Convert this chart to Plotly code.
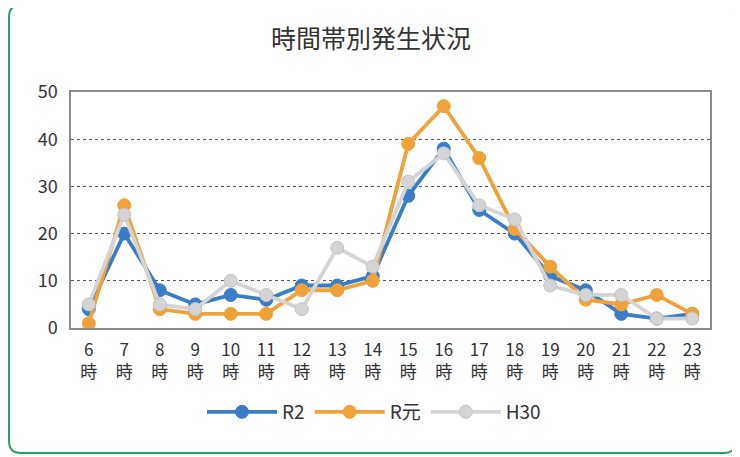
import plotly.graph_objects as go

hours = ["6<br>時", "7<br>時", "8<br>時", "9<br>時", "10<br>時", "11<br>時", "12<br>時",
         "13<br>時", "14<br>時", "15<br>時", "16<br>時", "17<br>時", "18<br>時", "19<br>時",
         "20<br>時", "21<br>時", "22<br>時", "23<br>時"]
r2 = [4, 20, 8, 5, 7, 6, 9, 9, 11, 28, 38, 25, 20, 11, 8, 3, 2, 3]
rgen = [1, 26, 4, 3, 3, 3, 8, 8, 10, 39, 47, 36, 21, 13, 6, 5, 7, 3]
h30 = [5, 24, 5, 4, 10, 7, 4, 17, 13, 31, 37, 26, 23, 9, 7, 7, 2, 2]
names = ["R2", "R元", "H30"]
colors = ["#3b7dc5", "#f0a23a", "#d4d4d4"]
outline = ["#3b7dc5", "#f0a23a", "#c4c4c4"]

FONT = "Noto Sans CJK JP"
fig = go.Figure()
for name, vals, c, oc in zip(names, [r2, rgen, h30], colors, outline):
    fig.add_trace(go.Scatter(
        x=hours, y=vals, name=name, mode="lines+markers",
        line=dict(color=c, width=3.8),
        marker=dict(color=c, size=13, line=dict(width=1, color=oc)),
    ))

# page has an 8px body margin; work in window pixels and shift
O = 8
W, H = 740 - O, 457 - O
L, R, T, B = 71 - O, 710 - O, 92 - O, 328 - O
pw, ph = R - L, B - T

def px(x):
    return (x - O - L) / pw

def py(y):
    return (B - (y - O)) / ph

# rounded green frame (window pixel coords)
x0, x1, y0, y1, rad = 9, 736, 5, 453, 12
path = (f"M {px(x0+rad)},{py(y0)} L {px(x1-rad)},{py(y0)} "
        f"Q {px(x1)},{py(y0)} {px(x1)},{py(y0+rad)} L {px(x1)},{py(y1-rad)} "
        f"Q {px(x1)},{py(y1)} {px(x1-rad)},{py(y1)} L {px(x0+rad)},{py(y1)} "
        f"Q {px(x0)},{py(y1)} {px(x0)},{py(y1-rad)} L {px(x0)},{py(y0+rad)} "
        f"Q {px(x0)},{py(y0)} {px(x0+rad)},{py(y0)} Z")

fig.update_layout(
    width=W, height=H,
    margin=dict(l=L, r=W - R, t=T, b=H - B, autoexpand=False),
    paper_bgcolor="white", plot_bgcolor="white",
    font=dict(family=FONT, color="#333333", size=16),
    title=dict(text="時間帯別発生状況", x=(371 - O) / W, xanchor="center",
               y=1 - (39 - O) / H, yanchor="middle",
               font=dict(size=25, color="#333333", family=FONT)),
    showlegend=True,
    legend=dict(orientation="h", x=px(374), xanchor="center",
                y=py(412), yanchor="middle",
                font=dict(size=19, color="#333333", family=FONT), itemwidth=70,
                traceorder="normal"),
    xaxis=dict(type="category", range=[-0.5, 17.5], showgrid=False, ticks="",
               showline=True, linecolor="#8a8a8a", linewidth=1.5, mirror=True,
               tickfont=dict(size=17, color="#333333"), fixedrange=True,
               ticklabelstandoff=6),
    yaxis=dict(range=[0, 50], dtick=10, showgrid=True, gridcolor="#555555",
               griddash="dot", gridwidth=1, zeroline=False, ticks="",
               showline=True, linecolor="#8a8a8a", linewidth=1.5, mirror=True,
               tickfont=dict(size=18, color="#333333"), ticklabelstandoff=8),
    shapes=[dict(type="path", xref="paper", yref="paper", path=path,
                 line=dict(color="#2f9e62", width=2), fillcolor="rgba(0,0,0,0)",
                 layer="below")],
)

fig.write_html("out.html")
